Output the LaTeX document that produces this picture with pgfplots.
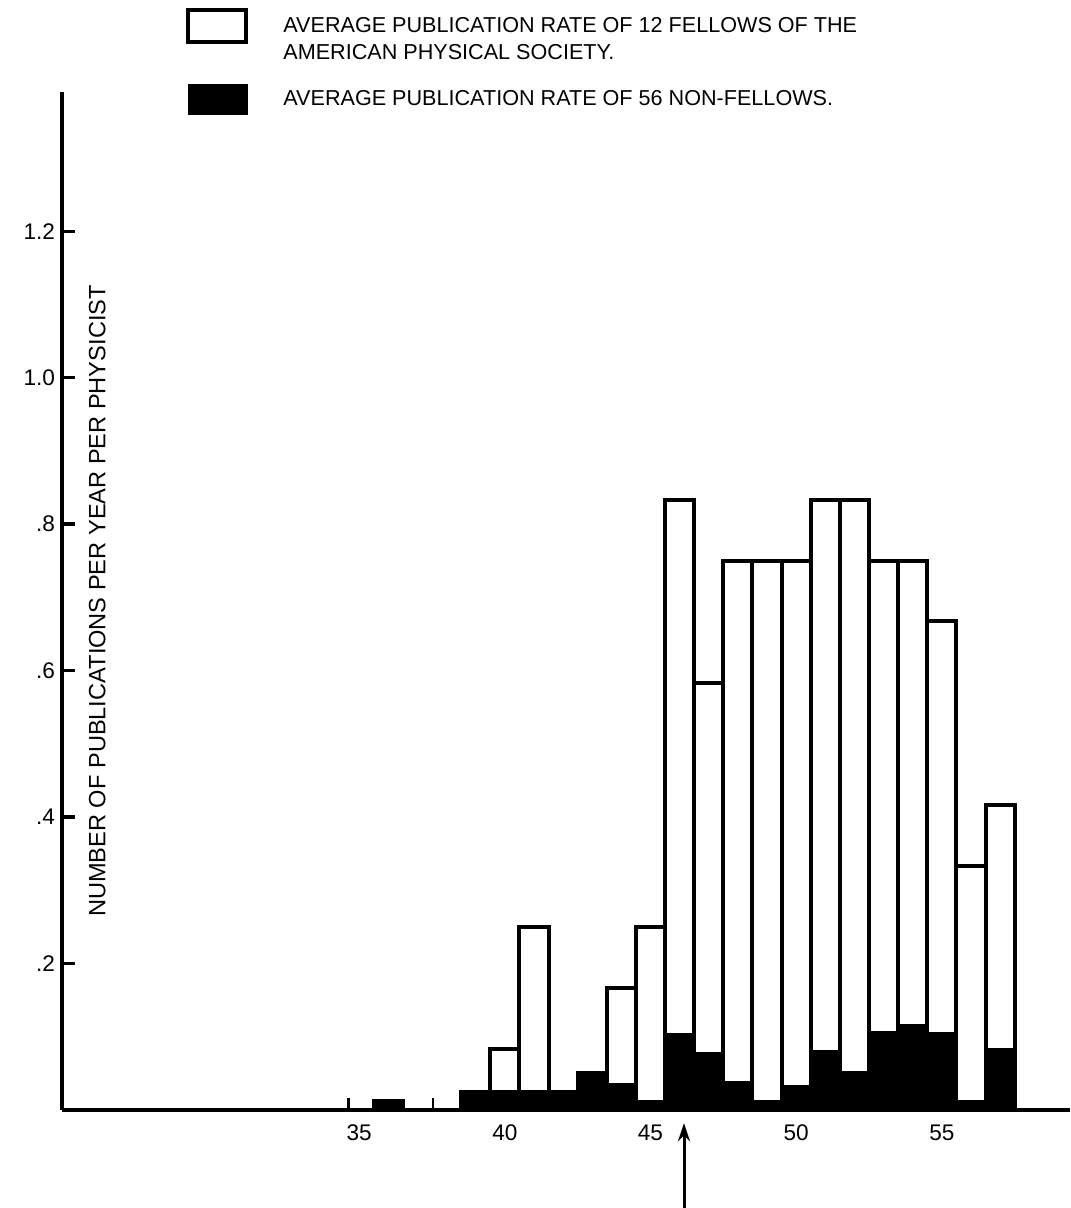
\documentclass[border=0pt]{standalone}
\usepackage{pgfplots}
\pgfplotsset{compat=1.18}
\usepackage{fontspec}
\setmainfont{Liberation Sans}
\usetikzlibrary{arrows.meta}

% fellows (white) and non-fellows (black), by year
\pgfplotstableread{
year rate
40 0.083
41 0.250
44 0.167
45 0.250
46 0.833
47 0.583
48 0.750
49 0.750
50 0.750
51 0.833
52 0.833
53 0.750
54 0.750
55 0.667
56 0.333
57 0.417
}\fellows
\pgfplotstableread{
year rate
36 0.012
39 0.025
40 0.025
41 0.025
42 0.025
43 0.050
44 0.034
45 0.011
46 0.103
47 0.077
48 0.037
49 0.011
50 0.031
51 0.079
52 0.050
53 0.105
54 0.115
55 0.104
56 0.011
57 0.082
}\nonfellows

\begin{document}
\begin{tikzpicture}
\useasboundingbox (0,0) rectangle (535pt,604pt);
\begin{axis}[
  at={(31pt,49pt)}, anchor=south west,
  scale only axis, width=504pt, height=509pt,
  xmin=24.8, xmax=59.4, ymin=0, ymax=1.39,
  axis x line*=bottom, axis y line*=left,
  axis line style={line width=2.4pt},
  xtick={35,40,45,50,55},
  xtick style={draw=none},
  ytick={0.2,0.4,0.6,0.8,1.0,1.2},
  yticklabels={.2,.4,.6,.8,1.0,1.2},
  ytick style={line width=1.6pt, draw=black},
  tick align=inside, major tick length=6.5pt,
  tick label style={font=\fontsize{11.3}{13}\selectfont},
  xticklabel style={yshift=-4pt},
  /pgf/number format/assume math mode=true,
  ylabel={NUMBER OF PUBLICATIONS PER YEAR PER PHYSICIST},
  ylabel style={at={(axis description cs:0.035,0.5)}, anchor=center,
    font=\fontsize{11.8}{14}\selectfont},
  clip=false,
]
\addplot[ybar, bar width=1, bar shift=0pt, fill=white, draw=black, line width=2pt]
  table[x=year, y=rate] {\fellows};
\addplot[ybar, bar width=1, bar shift=0pt, fill=black, draw=black, line width=2pt]
  table[x=year, y=rate] {\nonfellows};
% little marks beside the 1936 bar
\addplot[line width=1.3pt] coordinates {(34.63,0) (34.63,0.016)};
\addplot[line width=1.3pt] coordinates {(37.54,0) (37.54,0.016)};
% arrow under 1946
\addplot[line width=1.5pt, -{Stealth[length=9pt,width=6pt]}]
  coordinates {(46.15,-0.14) (46.15,-0.018)};
\end{axis}
% legend
\draw[line width=2pt] (94pt,583pt) rectangle (123pt,599pt);
\fill (94pt,546.5pt) rectangle (124pt,562pt);
\begin{scope}[every node/.style={anchor=base west, inner sep=0pt, font=\fontsize{10.8}{13}\selectfont}]
\node at (141.5pt,587.75pt) {AVERAGE PUBLICATION RATE OF 12 FELLOWS OF THE};
\node at (141.5pt,574.25pt) {AMERICAN PHYSICAL SOCIETY.};
\node at (141.5pt,551.25pt) {AVERAGE PUBLICATION RATE OF 56 NON-FELLOWS.};
\end{scope}
\end{tikzpicture}
\end{document}
